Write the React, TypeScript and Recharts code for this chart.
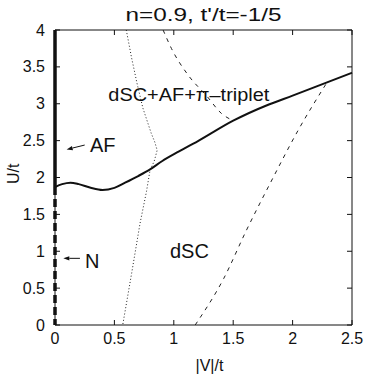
import React from 'react'
import { LineChart, Line, XAxis, YAxis, ReferenceArea, ReferenceLine, ReferenceDot } from 'recharts'

// phase boundary of the AF region (solid)
const afV = [0, 0.06, 0.13, 0.2, 0.3, 0.4, 0.5, 0.59, 0.7, 0.8, 0.9, 1.04, 1.2, 1.5, 1.8, 2.0, 2.29, 2.5]
const afU = [1.87, 1.91, 1.93, 1.91, 1.86, 1.83, 1.86, 1.93, 2.02, 2.11, 2.22, 2.35, 2.49, 2.77, 2.99, 3.11, 3.29, 3.42]

// pi-triplet boundary (dotted)
const piV = [0.6, 0.645, 0.69, 0.74, 0.81, 0.84, 0.86, 0.835, 0.8, 0.77, 0.716, 0.645, 0.57]
const piU = [4, 3.62, 3.28, 2.94, 2.6, 2.48, 2.37, 2.22, 2.1, 1.81, 1.38, 0.7, 0]

// dashed boundaries
const upperV = [0.91, 0.98, 1.12, 1.28, 1.4, 1.5]
const upperU = [4, 3.75, 3.39, 3.1, 2.87, 2.77]
const lowerV = [1.18, 1.42, 1.61, 1.83, 2.05, 2.29]
const lowerU = [0, 0.63, 1.28, 1.98, 2.65, 3.29]

// V = 0 line: AF above, N below
const afEdgeU = [1.87, 4]
const nEdgeU = [1.87, 0]

const vTicks = [0, 0.5, 1, 1.5, 2, 2.5]
const uTicks = [0, 0.5, 1, 1.5, 2, 2.5, 3, 3.5, 4]

const W = 366
const H = 378
const M = { top: 30, right: 14, bottom: 0, left: 0 }
const X_AXIS_H = 53
const Y_AXIS_W = 55
const PLOT_W = W - M.left - M.right - Y_AXIS_W
const PLOT_H = H - M.top - M.bottom - X_AXIS_H

const FONT = '"Liberation Sans", Arial, Helvetica, sans-serif'
const INK = '#111'

const pts = (vs: number[], us: number[]) => vs.map((v, i) => ({ v, u: us[i] }))

const XTick = (p: any) => {
  const { x, y, payload } = p
  return (
    <g>
      <line x1={x} x2={x} y1={y} y2={y - 5} stroke={INK} />
      <line x1={x} x2={x} y1={y - PLOT_H} y2={y - PLOT_H + 5} stroke={INK} />
      <text x={x} y={y + 19} textAnchor="middle" fontSize={16} fontFamily={FONT} fill={INK}>
        {String(payload.value)}
      </text>
    </g>
  )
}

const YTick = (p: any) => {
  const { x, y, payload } = p
  return (
    <g>
      <line x1={x} x2={x + 5} y1={y} y2={y} stroke={INK} />
      <line x1={x + PLOT_W} x2={x + PLOT_W - 5} y1={y} y2={y} stroke={INK} />
      <text x={x - 10} y={y + 5.5} textAnchor="end" fontSize={16} fontFamily={FONT} fill={INK}>
        {String(payload.value)}
      </text>
    </g>
  )
}

const Arrow = (p: any) => {
  const { x1, y1, x2, y2 } = p
  const a = Math.atan2(y2 - y1, x2 - x1)
  const len = 6
  const w = 2.2
  const bx = x2 - len * Math.cos(a)
  const by = y2 - len * Math.sin(a)
  const nx = -Math.sin(a) * w
  const ny = Math.cos(a) * w
  return (
    <g>
      <line x1={x1} y1={y1} x2={bx} y2={by} stroke={INK} strokeWidth={1} />
      <polygon points={`${x2},${y2} ${bx + nx},${by + ny} ${bx - nx},${by - ny}`} fill={INK} />
    </g>
  )
}

const textAt = (s: string, dx: number, dy: number, size: number, extra: any = {}) => (p: any) => (
  <text x={p.cx + dx} y={p.cy + dy} fontSize={size} fontFamily={FONT} fill={INK} {...extra}>
    {s}
  </text>
)

export default function App() {
  return (
    <div style={{ position: 'absolute', left: 0, top: 0, width: W, height: H, background: '#fff' }}>
      <LineChart width={W} height={H} margin={M}>
        <XAxis
          dataKey="v"
          type="number"
          domain={[0, 2.5]}
          ticks={vTicks}
          height={X_AXIS_H}
          axisLine={false}
          tickLine={false}
          tickSize={0}
          tickMargin={0}
          tick={<XTick />}
          interval={0}
        />
        <YAxis
          dataKey="u"
          type="number"
          domain={[0, 4]}
          ticks={uTicks}
          width={Y_AXIS_W}
          axisLine={false}
          tickLine={false}
          tickSize={0}
          tickMargin={0}
          tick={<YTick />}
          interval={0}
        />
        <ReferenceArea x1={0} x2={2.5} y1={0} y2={4} fill="none" fillOpacity={0} stroke={INK} strokeWidth={1} />

        <Line data={pts(piV, piU)} dataKey="u" type="linear" stroke="#222" strokeWidth={1} strokeDasharray="1 2.2" dot={false} activeDot={false} isAnimationActive={false} />
        <Line data={pts(upperV, upperU)} dataKey="u" type="monotone" stroke="#222" strokeWidth={1} strokeDasharray="4 5" dot={false} activeDot={false} isAnimationActive={false} />
        <Line data={pts(lowerV, lowerU)} dataKey="u" type="monotone" stroke="#222" strokeWidth={1} strokeDasharray="4 5" dot={false} activeDot={false} isAnimationActive={false} />
        <Line data={pts(afV, afU)} dataKey="u" type="monotone" stroke={INK} strokeWidth={2} dot={false} activeDot={false} isAnimationActive={false} />
        <Line data={afEdgeU.map((u) => ({ v: 0, u }))} dataKey="u" type="linear" stroke={INK} strokeWidth={3.5} dot={false} activeDot={false} isAnimationActive={false} />
        <Line data={nEdgeU.map((u) => ({ v: 0, u }))} dataKey="u" type="linear" stroke={INK} strokeWidth={3.5} strokeDasharray="8 4" dot={false} activeDot={false} isAnimationActive={false} />

        <ReferenceLine segment={[{ x: 0.25, y: 2.44 }, { x: 0.098, y: 2.38 }]} shape={Arrow} />
        <ReferenceLine segment={[{ x: 0.21, y: 0.904 }, { x: 0.07, y: 0.904 }]} shape={Arrow} />

        <ReferenceDot x={0.295} y={2.35} r={0} shape={textAt('AF', 0, 0, 20)} />
        <ReferenceDot x={0.253} y={0.77} r={0} shape={textAt('N', 0, 0, 20)} />
        <ReferenceDot x={0.449} y={3.04} r={0} shape={textAt('dSC+AF+π–triplet', 0, 0, 19, { textLength: 161, lengthAdjust: 'spacingAndGlyphs' })} />
        <ReferenceDot x={0.968} y={0.91} r={0} shape={textAt('dSC', 0, 0, 20)} />

        <ReferenceDot x={1.25} y={4} r={0} shape={textAt("n=0.9, t'/t=-1/5", 0, -9, 19, { textAnchor: 'middle', textLength: 156, lengthAdjust: 'spacingAndGlyphs' })} />
        <ReferenceDot x={1.3} y={0} r={0} shape={textAt('|V|/t', 0, 46, 16, { textAnchor: 'middle' })} />
        <ReferenceDot
          x={0}
          y={2.05}
          r={0}
          shape={(p: any) => (
            <text transform={`translate(${p.cx - 36},${p.cy}) rotate(-90)`} textAnchor="middle" fontSize={16} fontFamily={FONT} fill={INK}>
              U/t
            </text>
          )}
        />
      </LineChart>
    </div>
  )
}
